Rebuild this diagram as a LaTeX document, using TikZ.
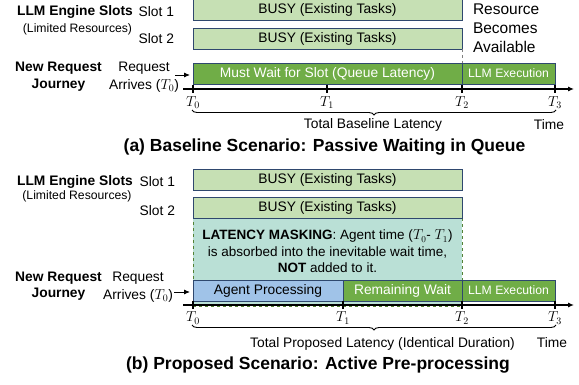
\documentclass[tikz,border=0pt]{standalone}
\usepackage{fontspec}
\setmainfont{Liberation Sans}
\usetikzlibrary{arrows.meta,decorations.pathreplacing}

\definecolor{busyfill}{RGB}{198,224,180}
\definecolor{waitfill}{RGB}{112,173,71}
\definecolor{agentfill}{RGB}{160,195,232}
\definecolor{maskfill}{RGB}{186,224,214}
\definecolor{maskline}{RGB}{84,130,53}
\definecolor{edgeblue}{RGB}{47,72,110}

\begin{document}
\begin{tikzpicture}[x=1pt, y=-1pt, >={Latex[length=6pt,width=5pt]},
	every node/.style={font=\fontsize{13.8}{16.5}\selectfont, inner sep=0pt, outer sep=0pt},
	bar/.style={draw=edgeblue, line width=0.8pt, anchor=north west, minimum height=21pt},
	busy/.style={bar, fill=busyfill, minimum width=269pt},
	waitbar/.style={bar, fill=waitfill, text=white},
	agentbar/.style={bar, fill=agentfill},
	small/.style={font=\fontsize{12.2}{14}\selectfont},
	caption/.style={font=\bfseries\fontsize{17.5}{20}\selectfont},
	axis/.style={->, line width=1.1pt},
	tick/.style={line width=1.5pt}]
	\useasboundingbox (0,0) rectangle (579,385);

	% (a) baseline
	\node[font=\bfseries\fontsize{13.8}{16.5}\selectfont] (engA) at (75,11.5) {LLM Engine Slots};
	\node[small] (limA) at (77.5,29.5) {(Limited Resources)};
	\node[anchor=east] (slotA1) at (174,11.5) {Slot 1};
	\node[anchor=east] (slotA2) at (174,39) {Slot 2};
	\node[busy] (busyA1) at (193,-1) {BUSY (Existing Tasks)};
	\node[busy] (busyA2) at (193,28) {BUSY (Existing Tasks)};
	\node[anchor=west, align=left, font=\fontsize{15.5}{19}\selectfont] (freeA) at (473,28) {Resource\\Becomes\\Available};
	\node[font=\bfseries\fontsize{13.8}{16.5}\selectfont, align=center] (newA) at (58.5,76.5) {New Request\\Journey};
	\node[align=center, font=\fontsize{13.8}{17.5}\selectfont] (reqA) at (144,77) {Request\\Arrives ($T_0$)};
	\node[waitbar, minimum width=269pt] (waitA) at (193,63) {Must Wait for Slot (Queue Latency)};
	\node[waitbar, small, minimum width=93pt] (execA) at (462,63) {LLM Execution};
	\draw[gray, dashed, line width=0.8pt] (busyA2.south east) -- (execA.north west);
	\coordinate (arrA) at (175,75);
	\draw[->, line width=0.9pt, shorten >=3pt] (arrA) -- (arrA -| waitA.west);
	\coordinate (axA0) at (183,89);
	\coordinate (axA1) at (574,89);
	\draw[axis] (axA0) -- (axA1);
	\foreach \x/\n in {193/0,327/1,462/2,555/3}{
		\draw[tick] (\x,85) -- (\x,93);
		\node[font=\fontsize{14}{16}\selectfont] (tA\n) at (\x,103) {$T_\n$};
	}
	\coordinate (brA0) at (192,110);
	\coordinate (brA1) at (556,110);
	\draw[decorate, decoration={brace, mirror, amplitude=5pt}, line width=0.9pt] (brA0) -- (brA1);
	\node (totA) at (373,125) {Total Baseline Latency};
	\node (timeA) at (549,125) {Time};
	\node[caption] (capA) at (324.5,147) {(a) Baseline Scenario: Passive Waiting in Queue};

	% (b) proposed
	\node[font=\bfseries\fontsize{13.8}{16.5}\selectfont] (engB) at (75,181.5) {LLM Engine Slots};
	\node[small] (limB) at (77,196.5) {(Limited Resources)};
	\node[anchor=east] (slotB1) at (175,181.5) {Slot 1};
	\node[anchor=east] (slotB2) at (175,210.5) {Slot 2};
	\node[bar, draw=maskline, dashed, fill=maskfill, minimum width=269pt, minimum height=88pt] (maskB) at (193,218) {};
	\node[busy] (busyB1) at (193,169.5) {BUSY (Existing Tasks)};
	\node[busy] (busyB2) at (193,197.5) {BUSY (Existing Tasks)};
	\node[align=center, font=\fontsize{13.5}{16.5}\selectfont] (maskTxt) at (327.5,251.5)
		{\textbf{LATENCY MASKING}: Agent time ($T_0$- $T_1$)\\is absorbed into the inevitable wait time,\\\textbf{NOT} added to it.};
	\node[font=\bfseries\fontsize{13.8}{16.5}\selectfont, align=center] (newB) at (58.5,286) {New Request\\Journey};
	\node[align=center, font=\fontsize{13.8}{17.5}\selectfont] (reqB) at (138,287) {Request\\Arrives ($T_0$)};
	\node[agentbar, minimum width=150pt] (agentB) at (193,280) {Agent Processing};
	\node[waitbar, minimum width=119pt] (waitB) at (343,280) {Remaining Wait};
	\node[waitbar, small, minimum width=93pt] (execB) at (462,280) {LLM Execution};
	\coordinate (arrB) at (174,292);
	\draw[->, line width=0.9pt, shorten >=3pt] (arrB) -- (arrB -| agentB.west);
	\coordinate (axB0) at (183,305);
	\coordinate (axB1) at (574,305);
	\draw[axis] (axB0) -- (axB1);
	\foreach \x/\n in {193/0,343/1,462/2,555/3}{
		\draw[tick] (\x,301) -- (\x,309);
		\node[font=\fontsize{14}{16}\selectfont] (tB\n) at (\x,318) {$T_\n$};
	}
	\coordinate (brB0) at (192,325);
	\coordinate (brB1) at (556,325);
	\draw[decorate, decoration={brace, mirror, amplitude=5pt}, line width=0.9pt] (brB0) -- (brB1);
	\node (totB) at (382.5,343.5) {Total Proposed Latency (Identical Duration)};
	\node (timeB) at (552,343) {Time};
	\node[caption] (capB) at (318,365) {(b) Proposed Scenario: Active Pre-processing};
\end{tikzpicture}
\end{document}
